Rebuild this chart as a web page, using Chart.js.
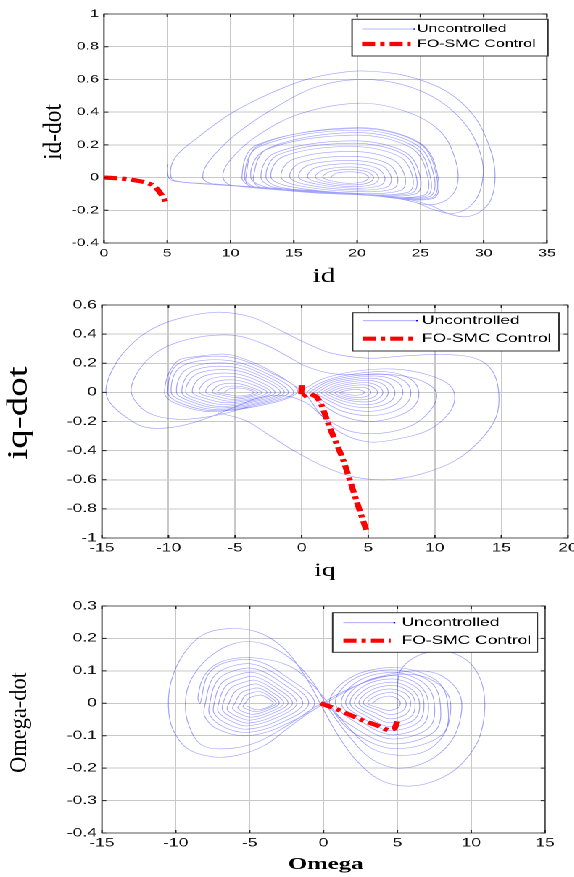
<!DOCTYPE html>
<html>
<head>
<meta charset="utf-8">
<script src="https://cdn.jsdelivr.net/npm/chart.js@4.4.1/dist/chart.umd.min.js"></script>
<style>
  html, body { margin: 0; padding: 0; background: #fff; overflow: hidden; }
  /* the source picture is stretched sideways, so the whole stage is too */
  #stage { position: absolute; left: 0; top: 0; width: 404px; height: 877px; transform: scaleX(1.45); transform-origin: 0 0; }
  #stage canvas { position: absolute; left: 0; }
</style>
</head>
<body>
<div id="stage">
  <canvas id="chartId" width="404" height="290" style="top:0"></canvas>
  <canvas id="chartIq" width="404" height="300" style="top:290px"></canvas>
  <canvas id="chartOmega" width="404" height="287" style="top:590px"></canvas>
</div>
<script>
// ---------- id / id-dot ----------
const idTicksX = [0, 5, 10, 15, 20, 25, 30, 35];
const idTicksY = [-0.4, -0.2, 0, 0.2, 0.4, 0.6, 0.8, 1];

const idControlled = [[0,0],[1,-0.004],[1.9,-0.01],[2.7,-0.02],[3.3,-0.03],[3.8,-0.045],[4.2,-0.07],[4.5,-0.1],[4.75,-0.13],[4.9,-0.16]];

// inner rings, spiralling outwards
const idCore = [
  [17.9,0],[18.3,0.025],[19.4,0.035],[20.5,0.025],[20.9,0],[20.5,-0.025],[19.4,-0.035],[18.3,-0.025],
  [17.3,0],[17.8,0.035],[19.4,0.05],[20.8,0.035],[21.3,0],[20.9,-0.032],[19.5,-0.045],[17.8,-0.03],
  [16.7,0],[17.3,0.045],[19.4,0.065],[21.1,0.045],[21.7,0],[21.3,-0.04],[19.6,-0.055],[17.3,-0.035],
  [16.1,0],[16.7,0.06],[19.4,0.085],[21.5,0.06],[22.2,0],[21.8,-0.05],[19.6,-0.065],[16.8,-0.04],
  [15.4,0],[16.1,0.075],[19.4,0.105],[21.9,0.075],[22.7,0],[22.3,-0.06],[19.6,-0.075],[16.1,-0.045],
  [14.7,0],[15.5,0.09],[19.4,0.13],[22.3,0.09],[23.2,0],[22.8,-0.07],[19.6,-0.085],[15.4,-0.05],
  [14.0,0],[14.9,0.11],[19.5,0.16],[22.8,0.11],[23.8,0],[23.4,-0.08],[19.6,-0.095],[14.7,-0.055],
  [13.2,0],[14.2,0.13],[19.6,0.19],[23.3,0.13],[24.4,0],[24.0,-0.09],[19.7,-0.1],[14.0,-0.06],
  [12.8,0],[13.8,0.14],[19.6,0.21],[23.6,0.145],[24.7,0],[24.3,-0.095],[19.8,-0.1],[13.6,-0.062]
];
const idMid = [
  [12.4,0],[13.5,0.15],[19.7,0.225],[23.8,0.155],[25.0,0],[24.6,-0.1],[20,-0.105],[13.2,-0.065],
  [11.6,0],[12.8,0.17],[19.9,0.26],[24.3,0.18],[25.6,0],[25.2,-0.11],[20,-0.105],[12.4,-0.06],
  [11.8,0],[13.0,0.18],[19.9,0.275],[24.5,0.19],[25.8,0],[25.4,-0.115],[20,-0.1],[12.1,-0.06],
  [11.1,0],[12.3,0.19],[20.0,0.29],[24.7,0.2],[26.1,0],[25.6,-0.12],[20,-0.1],[11.9,-0.06],
  [10.9,0],[12.1,0.2],[20.1,0.3],[24.9,0.21],[26.3,0],[25.8,-0.125],[20,-0.1],[11.6,-0.055],
  [11.2,0],[12.3,0.2],[20.1,0.305],[25.0,0.21],[26.4,0],[25.9,-0.13],[20,-0.1],[10.2,-0.05]
];
const idOuter = [
  [9.4,0],[9.9,0.1],[12,0.25],[15.5,0.39],[20.2,0.455],[24,0.4],[26.6,0.28],[27.8,0.1],[27.9,-0.05],[27.0,-0.14],[25.5,-0.165],[23.5,-0.13],[20,-0.1],[15,-0.072],[10,-0.048],[8.4,-0.035],
  [7.8,0],[8.3,0.1],[10.5,0.27],[14,0.45],[17,0.56],[20.2,0.6],[23.5,0.57],[26.5,0.47],[28.8,0.3],[29.9,0.1],[29.8,-0.06],[29,-0.17],[27.6,-0.22],[26.2,-0.2],[24.5,-0.15],[22,-0.115],[18,-0.09],[13,-0.065],[9,-0.04],[6,-0.025],
  [5.3,0],[5.6,0.12],[7.5,0.25],[10,0.39],[13,0.51],[16,0.6],[19,0.645],[21,0.65],[24,0.62],[27,0.53],[29.2,0.38],[30.5,0.18],[30.9,0.02],[30.6,-0.13],[29.7,-0.21],[28.5,-0.24],[27.2,-0.22],[25.8,-0.17],[23.5,-0.125],[20,-0.1],[15,-0.075],[10,-0.05],[6,-0.027],[5.2,-0.01],[5.0,0.05],[5.05,0.08]
];

// ---------- iq / iq-dot ----------
const iqTicksX = [-15, -10, -5, 0, 5, 10, 15, 20];
const iqTicksY = [-1, -0.8, -0.6, -0.4, -0.2, 0, 0.2, 0.4, 0.6];

const iqControlled = [[0,0.05],[0,-0.03],[0.5,-0.01],[1.1,-0.03],[1.5,-0.09],[2.1,-0.24],[3.1,-0.46],[4.1,-0.74],[4.9,-0.96]];

const iqLeftLobe = [
  [-5.8,0],[-5.4,0.025],[-4.7,0.03],[-4.0,0.018],[-3.6,0],[-4.0,-0.018],[-4.9,-0.025],[-5.5,-0.015],
  [-6.3,0],[-5.8,0.035],[-4.8,0.043],[-3.9,0.025],[-3.3,0],[-3.8,-0.022],[-5.0,-0.035],[-5.9,-0.02],
  [-6.7,0],[-6.2,0.05],[-4.9,0.062],[-3.8,0.035],[-3.0,0],[-3.7,-0.028],[-5.2,-0.048],[-6.3,-0.028],
  [-7.2,0],[-6.6,0.068],[-5.0,0.085],[-3.6,0.05],[-2.6,0],[-3.5,-0.035],[-5.4,-0.06],[-6.7,-0.035],
  [-7.7,0],[-7.0,0.087],[-5.1,0.108],[-3.4,0.062],[-2.3,0],[-3.3,-0.04],[-5.6,-0.072],[-7.1,-0.045],
  [-8.2,0],[-7.5,0.105],[-5.2,0.131],[-3.2,0.075],[-2.0,0],[-3.1,-0.045],[-5.8,-0.085],[-7.6,-0.05],
  [-8.7,0],[-7.9,0.125],[-5.3,0.154],[-3.0,0.09],[-1.6,0],[-2.9,-0.05],[-6.0,-0.097],[-8.1,-0.055],
  [-9.0,0],[-8.2,0.145],[-5.4,0.177],[-2.8,0.1],[-1.3,0],[-2.7,-0.055],[-6.2,-0.108],[-8.4,-0.06],
  [-9.4,0],[-8.6,0.16],[-5.5,0.2],[-2.6,0.11],[-1.0,0],[-2.5,-0.06],[-6.4,-0.118],[-8.8,-0.065],
  [-9.8,0],[-9.0,0.18],[-5.6,0.22],[-2.4,0.12],[-0.6,0],[-2.3,-0.065],[-6.6,-0.126],[-9.2,-0.07],
  [-10.05,0],[-9.2,0.2],[-5.6,0.245],[-2.2,0.13],[-0.3,0.01],[-2.1,-0.07],[-6.8,-0.132],[-9.5,-0.075],
  [-10.3,0],[-9.4,0.21],[-7.5,0.25],[-5.5,0.26],[-3.5,0.2],[-1.8,0.12],[-0.6,0.05],[0.0,0.02]
];
const iqRightLobe = [
  [1.5,0.09],[4,0.145],[7,0.16],[9.5,0.12],[11.1,0.05],[11.5,-0.04],[11.0,-0.15],[9.5,-0.26],[7.2,-0.32],[5,-0.34],[3.0,-0.28],[1.6,-0.17],[0.7,-0.06],
  [0.4,0],[1.8,0.08],[4.2,0.13],[6.5,0.14],[8.2,0.09],[8.8,0],[8.4,-0.1],[7,-0.17],[5,-0.2],[3,-0.16],[1.5,-0.08],[0.6,-0.01],
  [0.6,0],[2.0,0.075],[4.3,0.118],[6.2,0.125],[7.7,0.08],[8.2,0],[7.8,-0.085],[6.6,-0.14],[4.9,-0.16],[3.1,-0.13],[1.7,-0.065],[0.9,-0.01],
  [0.9,0],[2.2,0.068],[4.3,0.105],[5.9,0.11],[7.2,0.07],[7.6,0],[7.2,-0.07],[6.2,-0.115],[4.8,-0.13],[3.2,-0.105],[1.9,-0.05],[1.2,-0.01],
  [1.2,0],[2.4,0.06],[4.3,0.092],[5.6,0.095],[6.6,0.06],[7.0,0],[6.7,-0.06],[5.8,-0.095],[4.7,-0.105],[3.3,-0.085],[2.1,-0.04],[1.5,-0.008],
  [1.5,0],[2.6,0.05],[4.2,0.078],[5.3,0.08],[6.2,0.05],[6.5,0],[6.2,-0.05],[5.5,-0.078],[4.6,-0.085],[3.4,-0.068],[2.3,-0.032],[1.8,-0.006],
  [1.8,0],[2.8,0.042],[4.1,0.063],[5.1,0.065],[5.8,0.04],[6.1,0],[5.8,-0.04],[5.2,-0.062],[4.4,-0.065],[3.4,-0.052],[2.6,-0.025],[2.1,-0.005],
  [2.1,0],[3.0,0.033],[4.1,0.049],[4.9,0.05],[5.45,0.03],[5.7,0],[5.45,-0.03],[4.9,-0.048],[4.2,-0.05],[3.4,-0.04],[2.7,-0.018],[2.5,-0.004],
  [2.5,0],[3.2,0.023],[4.1,0.034],[4.7,0.034],[5.05,0.02],[5.2,0],[5.0,-0.022],[4.6,-0.033],[4.0,-0.035],[3.4,-0.027],[2.9,-0.01],
  [2.9,0],[3.5,0.015],[4.1,0.02],[4.5,0.014],[4.7,0],[4.5,-0.014],[4.0,-0.02],[3.4,-0.013],[3.0,-0.003]
];
const iqOuter = [
  [-4.0,-0.1],[-6.0,-0.15],[-8.0,-0.18],[-9.2,-0.185],[-10.8,-0.165],[-12.0,-0.11],[-12.8,0],[-12.5,0.11],[-11.5,0.23],[-10.0,0.32],[-7.7,0.38],[-5.0,0.39],[-2.8,0.33],[-1.1,0.25],[0.3,0.18],[2.2,0.13],[4.5,0.12],[7.0,0.12],[9.0,0.08],[10.1,0],[9.7,-0.12],[8.2,-0.23],[6.0,-0.28],[3.8,-0.27],[1.8,-0.18],[0.3,-0.07],[-1.5,-0.02],
  [-3.3,-0.04],[-5.0,-0.1],[-7.5,-0.19],[-9.7,-0.24],[-11.7,-0.24],[-13.2,-0.17],[-14.4,-0.07],[-14.7,0.02],[-14.3,0.14],[-13.4,0.27],[-11.7,0.41],[-9.5,0.5],[-6.5,0.55],[-3.9,0.52],[-1.7,0.43],[0.3,0.34],[2.2,0.27],[5.0,0.235],[7.7,0.25],[10.5,0.26],[13.0,0.235],[14.3,0.15],[14.8,0],[14.6,-0.17],[13.4,-0.33],[11.5,-0.47],[9.0,-0.56],[6.4,-0.6],[3.9,-0.58],[1.7,-0.51],[-0.6,-0.4],[-2.5,-0.29],[-4.3,-0.19],[-6.3,-0.14]
];

// ---------- Omega / Omega-dot ----------
const omegaTicksX = [-15, -10, -5, 0, 5, 10, 15];
const omegaTicksY = [-0.4, -0.3, -0.2, -0.1, 0, 0.1, 0.2, 0.3];

const omegaControlled = [[-0.2,0],[1,-0.02],[2.5,-0.05],[3.6,-0.068],[4.4,-0.083],[4.8,-0.078],[5,-0.055]];

const omegaOuter = [
  [5.0,-0.015],[5.0,0.04],[5.2,0.1],[6.1,0.14],[7.4,0.16],[8.8,0.155],[10.2,0.11],[10.9,0.02],[10.6,-0.1],[9.5,-0.18],[8.0,-0.23],[6.0,-0.255],[4.0,-0.24],[2.3,-0.18],[1.0,-0.1],[0.0,-0.02],
  [-1.2,0.08],[-2.7,0.17],[-4.5,0.22],[-6.5,0.23],[-8.2,0.21],[-9.5,0.15],[-10.3,0.07],[-10.5,-0.01],[-10.2,-0.08],[-9.2,-0.14],[-7.5,-0.165],[-5.8,-0.16],[-4.0,-0.13],[-2.5,-0.08],[-1.0,-0.03],
  [0.5,0.01],[2.5,0.06],[4.5,0.09],[6.5,0.1],[8.0,0.085],[9.2,0.03],[9.3,-0.04],[8.6,-0.12],[7.0,-0.18],[5.0,-0.2],[3.2,-0.17],[1.7,-0.1],[0.4,-0.02],
  [-0.8,0.07],[-2.3,0.14],[-4.2,0.185],[-6.0,0.185],[-7.8,0.14],[-9.0,0.07],[-9.35,0],[-9.1,-0.07],[-8.2,-0.13],[-6.5,-0.14],[-4.5,-0.12],[-2.5,-0.07],[-0.5,-0.01],
  [1.5,0.04],[3.5,0.075],[5.5,0.09],[7.2,0.075],[8.4,0.03],[8.6,-0.03],[8.1,-0.1],[6.8,-0.15],[5.0,-0.16],[3.3,-0.14],[1.8,-0.08],[0.5,-0.01],
  [-0.8,0.06],[-2.3,0.115],[-4.7,0.14],[-6.8,0.13],[-8.0,0.09],[-8.5,0.02]
];
const omegaLeftLobe = [
  [-8.35,0],[-7.85,0.086],[-6.75,0.124],[-4.7,0.133],[-2.65,0.086],[-0.6,0],[-2.8,-0.07],[-5.2,-0.1],[-7.15,-0.08],[-8.05,-0.04],
  [-8.0,0],[-7.5,0.078],[-6.4,0.112],[-4.7,0.12],[-2.85,0.078],[-1.0,0],[-3.0,-0.063],[-5.2,-0.09],[-6.8,-0.072],[-7.7,-0.036],
  [-7.7,0],[-7.2,0.07],[-6.1,0.1],[-4.7,0.107],[-3.05,0.07],[-1.4,0],[-3.2,-0.056],[-5.2,-0.08],[-6.5,-0.064],[-7.4,-0.032],
  [-7.4,0],[-6.9,0.062],[-5.8,0.088],[-4.7,0.095],[-3.25,0.062],[-1.8,0],[-3.4,-0.049],[-5.2,-0.07],[-6.2,-0.056],[-7.1,-0.028],
  [-7.1,0],[-6.6,0.054],[-5.5,0.077],[-4.7,0.083],[-3.4,0.054],[-2.1,0],[-3.55,-0.043],[-5.1,-0.061],[-6.0,-0.049],[-6.8,-0.024],
  [-6.8,0],[-6.3,0.046],[-5.3,0.066],[-4.6,0.071],[-3.5,0.046],[-2.4,0],[-3.7,-0.036],[-5.0,-0.052],[-5.8,-0.042],[-6.5,-0.021],
  [-6.4,0],[-5.95,0.038],[-5.1,0.055],[-4.5,0.059],[-3.6,0.038],[-2.7,0],[-3.8,-0.03],[-4.9,-0.043],[-5.6,-0.034],[-6.15,-0.017],
  [-6.0,0],[-5.6,0.031],[-4.9,0.044],[-4.4,0.047],[-3.7,0.031],[-3.0,0],[-3.9,-0.024],[-4.8,-0.034],[-5.4,-0.027],[-5.8,-0.014],
  [-5.6,0],[-5.3,0.024],[-4.7,0.034],[-4.3,0.036],[-3.75,0.024],[-3.2,0],[-3.9,-0.018],[-4.6,-0.026],[-5.1,-0.02],[-5.45,-0.01],
  [-5.3,0],[-5.0,0.017],[-4.5,0.024],[-4.2,0.025],[-3.8,0.017],[-3.4,0],[-3.9,-0.014],[-4.5,-0.02],[-4.9,-0.015],[-5.2,-0.008]
];
const omegaRightLobe = [
  [3.3,0],[3.8,0.016],[4.5,0.022],[5.0,0.014],[5.2,0],[5.0,-0.015],[4.4,-0.022],[3.8,-0.015],
  [3.0,0],[3.6,0.024],[4.6,0.033],[5.3,0.02],[5.6,0],[5.35,-0.024],[4.5,-0.035],[3.7,-0.022],
  [2.7,0],[3.4,0.032],[4.6,0.044],[5.6,0.028],[5.9,0],[5.6,-0.033],[4.5,-0.048],[3.5,-0.03],
  [2.4,0],[3.2,0.04],[4.7,0.055],[5.8,0.035],[6.2,0],[5.9,-0.042],[4.5,-0.06],[3.3,-0.038],
  [2.1,0],[3.0,0.047],[4.7,0.065],[6.0,0.042],[6.5,0],[6.15,-0.05],[4.5,-0.072],[3.1,-0.045],
  [1.8,0],[2.8,0.055],[4.7,0.075],[6.3,0.048],[6.8,0],[6.4,-0.059],[4.5,-0.084],[2.9,-0.052],
  [1.5,0],[2.6,0.062],[4.8,0.085],[6.5,0.055],[7.1,0],[6.7,-0.068],[4.6,-0.097],[2.7,-0.06],
  [1.2,0],[2.4,0.07],[4.8,0.095],[6.8,0.062],[7.5,0],[7.1,-0.077],[4.6,-0.11],[2.5,-0.068],
  [0.8,0],[2.1,0.076],[4.8,0.103],[7.2,0.067],[7.9,0],[7.5,-0.088],[4.7,-0.125],[2.2,-0.078],
  [0.4,0],[1.9,0.081],[4.9,0.11],[7.6,0.072],[8.4,0],[8.0,-0.098],[4.8,-0.14],[1.9,-0.087],[0.4,-0.01]
];

// ---------- drawing ----------
const BLUE = 'rgba(30,30,255,0.42)';
const RED = '#ff0000';
const GRID = '#c8c8c8';
const SANS = "'Liberation Sans', Arial, Helvetica, sans-serif";
const SERIF = "'Liberation Serif', 'Times New Roman', serif";

function toXY(points) {
  return points.map(p => ({ x: p[0], y: p[1] }));
}

// box around the plot, small inward ticks, axis titles and the boxed legend
const phaseFrame = {
  id: 'phaseFrame',
  afterDraw(chart, args, opts) {
    const { ctx, chartArea: a } = chart;
    const xs = chart.scales.x, ys = chart.scales.y;
    ctx.save();
    ctx.strokeStyle = '#555';
    ctx.lineWidth = 1;
    ctx.strokeRect(a.left, a.top, a.right - a.left, a.bottom - a.top);
    ctx.strokeStyle = '#222';
    ctx.beginPath();
    xs.ticks.forEach(t => {
      const px = xs.getPixelForValue(t.value);
      ctx.moveTo(px, a.top); ctx.lineTo(px, a.top + 3);
      ctx.moveTo(px, a.bottom); ctx.lineTo(px, a.bottom - 3);
    });
    ys.ticks.forEach(t => {
      const py = ys.getPixelForValue(t.value);
      ctx.moveTo(a.left, py); ctx.lineTo(a.left + 3, py);
      ctx.moveTo(a.right, py); ctx.lineTo(a.right - 3, py);
    });
    ctx.stroke();

    // axis titles
    const xt = opts.xTitle, yt = opts.yTitle;
    ctx.fillStyle = '#000';
    ctx.textAlign = 'center';
    ctx.textBaseline = 'alphabetic';
    ctx.font = (xt.bold ? 'bold ' : '') + xt.size + 'px ' + SERIF;
    ctx.fillText(xt.text, xt.cx, xt.baseline);

    ctx.save();
    ctx.translate(yt.cx, yt.cy);
    ctx.rotate(-Math.PI / 2);
    ctx.scale(1, yt.squeeze);
    ctx.textBaseline = 'middle';
    ctx.font = yt.size + 'px ' + SERIF;
    ctx.fillText(yt.text, 0, 0);
    ctx.restore();

    // legend
    const lg = opts.legend;
    ctx.fillStyle = '#fff';
    ctx.fillRect(lg.x1, lg.y1, lg.x2 - lg.x1, lg.y2 - lg.y1);
    ctx.strokeStyle = '#333';
    ctx.lineWidth = 1;
    ctx.strokeRect(lg.x1, lg.y1, lg.x2 - lg.x1, lg.y2 - lg.y1);
    chart.data.datasets.forEach(d => {
      if (d.legendRow === undefined) return;
      const yy = lg.rows[d.legendRow];
      ctx.strokeStyle = d.borderColor;
      ctx.lineWidth = d.legendRow === 0 ? 0.8 : d.borderWidth;
      ctx.setLineDash(d.borderDash || []);
      ctx.beginPath();
      ctx.moveTo(lg.lineX1, yy);
      ctx.lineTo(lg.lineX2 - (d.legendRow === 0 ? 0 : 3), yy);
      ctx.stroke();
      ctx.setLineDash([]);
      if (d.legendRow === 0) {
        ctx.fillStyle = '#0000ff';
        ctx.fillRect(lg.lineX2 - 1, yy - 0.7, 1.2, 1.4);
      }
      ctx.fillStyle = '#000';
      ctx.font = lg.fontSize + 'px ' + SANS;
      ctx.textBaseline = 'middle';
      ctx.textAlign = 'left';
      ctx.fillText(d.label, lg.textX, yy);
    });
    ctx.restore();
  }
};

function buildChart(canvasId, p) {
  const datasets = [{
    label: 'FO-SMC Control', legendRow: 1, data: toXY(p.controlled), showLine: true,
    borderColor: RED, borderWidth: 4.2, borderDash: [9, 3.5, 3, 3.5], borderCapStyle: 'butt',
    pointRadius: 0, tension: 0.2
  }];
  p.uncontrolled.forEach((seg, i) => {
    datasets.push({
      label: 'Uncontrolled', legendRow: i === 0 ? 0 : undefined, data: toXY(seg), showLine: true,
      borderColor: BLUE, borderWidth: 0.6, pointRadius: 0, tension: 0.35
    });
  });

  return new Chart(document.getElementById(canvasId), {
    type: 'scatter',
    data: { datasets: datasets },
    options: {
      responsive: false,
      animation: false,
      devicePixelRatio: 2,
      events: [],
      layout: { padding: { left: 0, top: p.area.top, right: p.width - p.area.right, bottom: 0 } },
      plugins: {
        legend: { display: false },
        tooltip: { enabled: false },
        phaseFrame: { legend: p.legend, xTitle: p.xTitle, yTitle: p.yTitle }
      },
      scales: {
        x: {
          type: 'linear',
          min: p.xTicks[0],
          max: p.xTicks[p.xTicks.length - 1],
          afterBuildTicks: s => { s.ticks = p.xTicks.map(v => ({ value: v })); },
          afterFit: s => { s.height = p.height - p.area.bottom; s.paddingLeft = 0; s.paddingRight = 0; },
          ticks: {
            autoSkip: false, maxRotation: 0, padding: p.xLabelPad, color: '#111',
            font: { family: SANS, size: p.tickSize },
            callback: v => String(v)
          },
          grid: { color: GRID, lineWidth: 1, drawTicks: false },
          border: { display: false }
        },
        y: {
          type: 'linear',
          min: p.yTicks[0],
          max: p.yTicks[p.yTicks.length - 1],
          afterBuildTicks: s => { s.ticks = p.yTicks.map(v => ({ value: v })); },
          afterFit: s => { s.width = p.area.left; s.paddingTop = 0; s.paddingBottom = 0; },
          ticks: {
            autoSkip: false, padding: 3.5, color: '#111',
            font: { family: SANS, size: p.tickSize },
            callback: v => String(v)
          },
          grid: { color: GRID, lineWidth: 1, drawTicks: false },
          border: { display: false }
        }
      }
    },
    plugins: [phaseFrame]
  });
}

buildChart('chartId', {
  width: 404, height: 290,
  area: { left: 71.7, right: 377.2, top: 14, bottom: 243 },
  xTicks: idTicksX, yTicks: idTicksY, tickSize: 11, xLabelPad: 4,
  controlled: idControlled,
  uncontrolled: [idCore.concat(idMid, idOuter)],
  xTitle: { text: 'id', cx: 223.4, baseline: 282, size: 20 },
  yTitle: { text: 'id-dot', cx: 37.4, cy: 132, size: 23.4, squeeze: 0.76 },
  legend: { x1: 242.8, y1: 19.3, x2: 377.9, y2: 56, lineX1: 249.7, lineX2: 286.2, textX: 287.6, rows: [29, 44], fontSize: 11 }
});

buildChart('chartIq', {
  width: 404, height: 300,
  area: { left: 70.3, right: 391.7, top: 15, bottom: 248 },
  xTicks: iqTicksX, yTicks: iqTicksY, tickSize: 12, xLabelPad: 3,
  controlled: iqControlled,
  uncontrolled: [iqLeftLobe.concat(iqRightLobe), iqOuter],
  xTitle: { text: 'iq', cx: 224, baseline: 286, size: 19 },
  yTitle: { text: 'iq-dot', cx: 13.2, cy: 123, size: 39, squeeze: 0.5 },
  legend: { x1: 243.2, y1: 22.7, x2: 385.5, y2: 61, lineX1: 250.1, lineX2: 288, textX: 291, rows: [30.7, 48.7], fontSize: 12 }
});

buildChart('chartOmega', {
  width: 404, height: 287,
  area: { left: 70.3, right: 375.9, top: 16, bottom: 243 },
  xTicks: omegaTicksX, yTicks: omegaTicksY, tickSize: 12, xLabelPad: 3,
  controlled: omegaControlled,
  uncontrolled: [omegaOuter.concat(omegaLeftLobe), omegaRightLobe],
  xTitle: { text: 'Omega', cx: 224.6, baseline: 279, size: 17, bold: true },
  yTitle: { text: 'Omega-dot', cx: 13.3, cy: 132.5, size: 22.4, squeeze: 0.76 },
  legend: { x1: 229.4, y1: 22.7, x2: 370.6, y2: 62.3, lineX1: 236.8, lineX2: 272.4, textX: 277, rows: [32.7, 50.7], fontSize: 12 }
});
</script>
</body>
</html>
